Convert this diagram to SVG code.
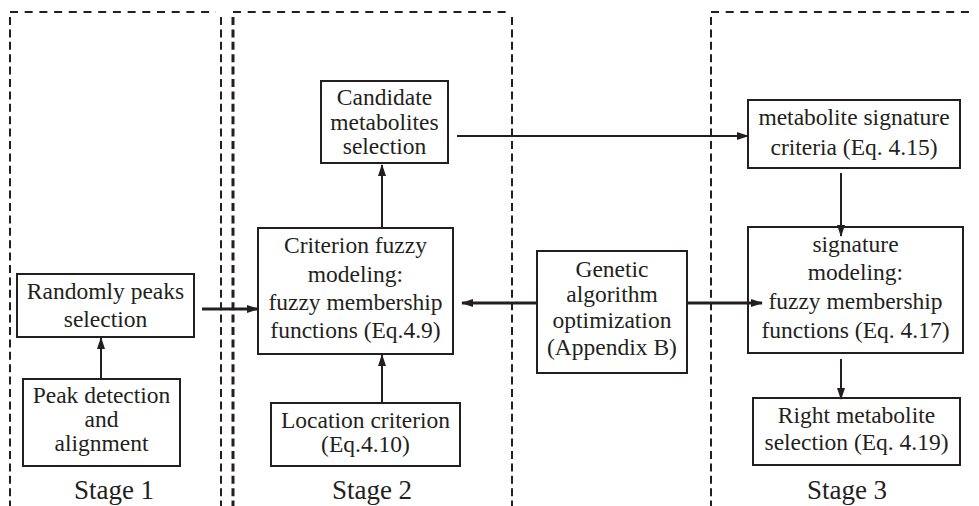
<svg xmlns="http://www.w3.org/2000/svg" width="979" height="506" viewBox="0 0 979 506">
<style>
.bg{fill:#ffffff}
.box{fill:#ffffff;stroke:#231f20;stroke-width:2}
.t{font-family:"Liberation Serif","DejaVu Serif","Noto Serif","Times New Roman",Times,serif;font-size:23.5px;fill:#231f20;text-anchor:middle}
.st{font-family:"Liberation Serif","DejaVu Serif","Noto Serif","Times New Roman",Times,serif;font-size:27px;fill:#231f20;text-anchor:middle}
.dh{stroke:#231f20;stroke-width:2;stroke-dasharray:8 6.7;fill:none}
.dv{stroke:#231f20;stroke-width:2;stroke-dasharray:8 4.4;fill:none}
.thin{stroke:#231f20;stroke-width:2;fill:none}
.thick{stroke:#231f20;stroke-width:3;fill:none}
</style>
<defs>
<marker id="ah" markerWidth="12" markerHeight="8" refX="11" refY="4" orient="auto" markerUnits="userSpaceOnUse">
<path d="M0,0 L12,4 L0,8 Z" fill="#231f20"/>
</marker>
</defs>
<rect class="bg" x="0" y="0" width="979" height="506"/>
<g id="stages">
<line class="dh" x1="10" y1="12" x2="216" y2="12"/>
<line class="dv" x1="10" y1="17" x2="10" y2="506"/>
<line class="dv" x1="221" y1="17" x2="221" y2="506"/>
<line class="dh" x1="233" y1="12" x2="512" y2="12"/>
<line class="dv" x1="233" y1="17" x2="233" y2="506" style="stroke-width:3"/>
<line class="dv" x1="512" y1="17" x2="512" y2="506"/>
<line class="dh" x1="711" y1="12" x2="975" y2="12"/>
<line class="dv" x1="711" y1="17" x2="711" y2="506"/>
<text class="st" font-family="Liberation Serif, serif" x="114" y="499">Stage 1</text>
<text class="st" font-family="Liberation Serif, serif" x="372" y="499">Stage 2</text>
<text class="st" font-family="Liberation Serif, serif" x="847" y="499">Stage 3</text>
</g>
<g id="randomly">
<rect class="box" x="17" y="274" width="177" height="63"/>
<text class="t" x="105.5" y="299">Randomly peaks</text>
<text class="t" x="105.5" y="327">selection</text>
</g>
<g id="peak">
<rect class="box" x="23" y="379" width="157" height="87"/>
<text class="t" x="101.5" y="403">Peak detection</text>
<text class="t" x="101.5" y="427">and</text>
<text class="t" x="101.5" y="451">alignment</text>
</g>
<g id="candidate">
<rect class="box" x="321" y="81" width="127" height="82"/>
<text class="t" x="384.5" y="105">Candidate</text>
<text class="t" x="384.5" y="130">metabolites</text>
<text class="t" x="384.5" y="154">selection</text>
</g>
<g id="criterion">
<rect class="box" x="258" y="228" width="195" height="126"/>
<text class="t" x="355.5" y="253">Criterion fuzzy</text>
<text class="t" x="355.5" y="282">modeling:</text>
<text class="t" x="355.5" y="310">fuzzy membership</text>
<text class="t" x="355.5" y="338">functions (Eq.4.9)</text>
</g>
<g id="location">
<rect class="box" x="271" y="403" width="189" height="63"/>
<text class="t" x="365.5" y="428">Location criterion</text>
<text class="t" x="365.5" y="452">(Eq.4.10)</text>
</g>
<g id="genetic">
<rect class="box" x="537" y="251" width="150" height="122"/>
<text class="t" x="612" y="277">Genetic</text>
<text class="t" x="612" y="302">algorithm</text>
<text class="t" x="612" y="328">optimization</text>
<text class="t" x="612" y="355">(Appendix B)</text>
</g>
<g id="metabolite">
<rect class="box" x="748" y="100" width="212" height="68"/>
<text class="t" x="854" y="125">metabolite signature</text>
<text class="t" x="854" y="155">criteria (Eq. 4.15)</text>
</g>
<g id="signature">
<rect class="box" x="748" y="227" width="215" height="126"/>
<text class="t" x="855.5" y="252">signature</text>
<text class="t" x="855.5" y="280">modeling:</text>
<text class="t" x="855.5" y="309">fuzzy membership</text>
<text class="t" x="855.5" y="338">functions (Eq. 4.17)</text>
</g>
<g id="right">
<rect class="box" x="753" y="398" width="207" height="67"/>
<text class="t" x="856.5" y="423">Right metabolite</text>
<text class="t" x="856.5" y="450">selection (Eq. 4.19)</text>
</g>
<g id="connectors">
<line class="thin" x1="101" y1="379" x2="101" y2="338" marker-end="url(#ah)"/>
<line class="thick" x1="202" y1="309" x2="258" y2="309" marker-end="url(#ah)"/>
<line class="thin" x1="382" y1="403" x2="382" y2="355" marker-end="url(#ah)"/>
<line class="thin" x1="382" y1="228" x2="382" y2="165" marker-end="url(#ah)"/>
<line class="thin" x1="457" y1="136" x2="748" y2="136" marker-end="url(#ah)"/>
<line class="thick" x1="537" y1="303" x2="462" y2="303" marker-end="url(#ah)"/>
<line class="thick" x1="687" y1="303" x2="762" y2="303" marker-end="url(#ah)"/>
<line class="thin" x1="841" y1="173" x2="841" y2="236" marker-end="url(#ah)"/>
<line class="thin" x1="841" y1="359" x2="841" y2="399" marker-end="url(#ah)"/>
</g>
</svg>
